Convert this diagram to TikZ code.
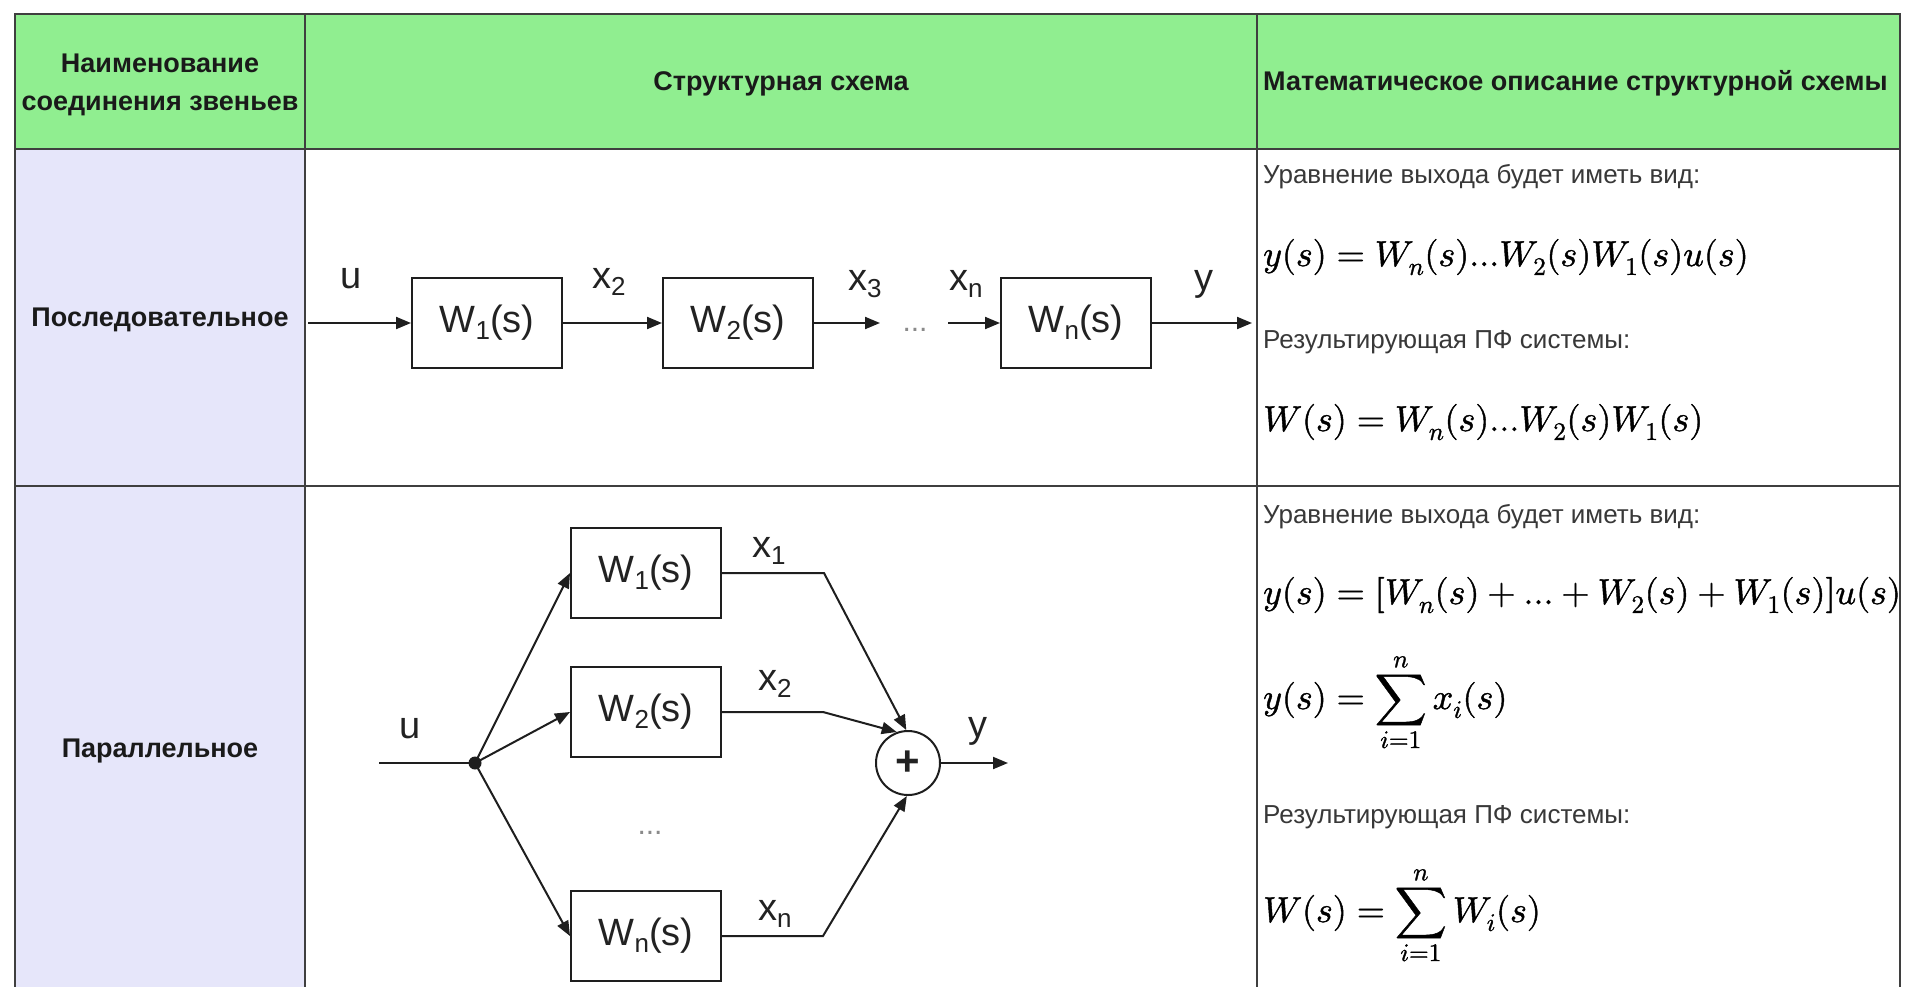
\documentclass[tikz,border=0pt]{standalone}
\usepackage{fontspec}
\usepackage{unicode-math}
\setmainfont{Liberation Sans}
\setmathfont{Latin Modern Math}[FakeBold=1.2]
\usetikzlibrary{arrows.meta}
\definecolor{hg}{HTML}{90EE90}
\definecolor{lv}{HTML}{E6E6FA}
\definecolor{tl}{HTML}{3F3F3F}
\definecolor{dl}{HTML}{1E1E1E}
\definecolor{dk}{HTML}{222222}
\definecolor{hk}{HTML}{1A1A1A}
\definecolor{rk}{HTML}{383838}
\definecolor{dg}{HTML}{8A8A8A}
\newcommand\blkfont{\fontsize{38}{44}\selectfont}
\newcommand\hdrfont{\bfseries\fontsize{27}{32}\selectfont}
\newcommand\rtfont{\fontsize{26}{30}\selectfont}
\newcommand\mthfont{\fontsize{36}{40}\selectfont}
\newcommand\sbs[1]{\raisebox{-7pt}{\fontsize{26}{26}\selectfont #1}}
\begin{document}
\begin{tikzpicture}[x=1pt,y=-1pt,
  tline/.style={draw=tl, line width=2.5pt},
  blk/.style={draw=dl, line width=2pt, fill=white, minimum width=150pt, minimum height=90pt, inner sep=0pt, font=\blkfont, text=dk},
  arr/.style={draw=dl, line width=2pt, -{Triangle[length=15pt,width=12pt]}},
  ln/.style={draw=dl, line width=2pt},
  lbl/.style={anchor=base west, inner sep=0pt, font=\blkfont, text=dk},
  hdr/.style={anchor=base, inner sep=0pt, font=\hdrfont, text=hk},
  rt/.style={anchor=base west, inner sep=0pt, font=\rtfont, text=rk},
  mth/.style={anchor=base west, inner sep=0pt, font=\mthfont, text=black},
  dotsl/.style={anchor=base, inner sep=0pt, font=\fontsize{30}{30}\selectfont, text=dg},
  junc/.style={circle, fill=dl, inner sep=0pt, minimum size=13pt},
  sumc/.style={circle, draw=dl, line width=2pt, fill=white, inner sep=0pt, minimum size=64pt, font=\bfseries\fontsize{42}{42}\selectfont, text=dk}]
\clip (0,0) rectangle (1905,986);
\fill[white] (0,0) rectangle (1905,986);
% table
\fill[hg] (15,14) rectangle (1900,149);
\fill[lv] (15,149) rectangle (305,1100);
\draw[tline] (15,14) rectangle (1900,1100);
\draw[tline] (15,149) -- (1900,149);
\draw[tline] (15,486) -- (1900,486);
\draw[tline] (305,14) -- (305,1100);
\draw[tline] (1257,14) -- (1257,1100);
% header
\node[hdr] (h1a) at (160,72) {Наименование};
\node[hdr] (h1b) at (160,110) {соединения звеньев};
\node[hdr] (h2) at (781,90) {Структурная схема};
\node[hdr, anchor=base west] (h3) at (1263,90) {Математическое описание структурной схемы};
% left labels
\node[hdr] (r1) at (160,326) {Последовательное};
\node[hdr] (r2) at (160,757) {Параллельное};
% row 1 diagram
\coordinate (sin) at (308,323);
\node[blk] (s1) at (487,323) {W\sbs{1}(s)};
\node[blk] (s2) at (738,323) {W\sbs{2}(s)};
\node[blk] (sn) at (1076,323) {W\sbs{n}(s)};
\coordinate (sd1) at (880,323);
\coordinate (sd2) at (948,323);
\coordinate (sout) at (1252,323);
\node[dotsl] (sdots) at (915,331) {...};
\draw[arr] (sin) -- (s1);
\draw[arr] (s1) -- (s2);
\draw[arr] (s2) -- (sd1);
\draw[arr] (sd2) -- (sn);
\draw[arr] (sn) -- (sout);
\node[lbl] (lu) at (340,288) {u};
\node[lbl] (lx2) at (592,288) {x\sbs{2}};
\node[lbl] (lx3) at (848,290) {x\sbs{3}};
\node[lbl] (lxn) at (949,290) {x\sbs{n}};
\node[lbl] (ly) at (1194,290) {y};
% row 2 diagram
\coordinate (pin) at (379,763);
\node[junc] (n0) at (475,763) {};
\node[blk] (p1) at (646,573) {W\sbs{1}(s)};
\node[blk] (p2) at (646,712) {W\sbs{2}(s)};
\node[blk] (pn) at (646,936) {W\sbs{n}(s)};
\node[sumc] (c) at (908,763) {+};
\coordinate (k1) at (824,573);
\coordinate (k2) at (823,712);
\coordinate (kn) at (823,936);
\coordinate (pout) at (1008,763);
\node[dotsl] (pdots) at (650,834) {...};
\draw[ln] (pin) -- (n0.center);
\draw[arr] (n0.center) -- (p1.west);
\draw[arr] (n0.center) -- (p2.west);
\draw[arr] (n0.center) -- (pn.west);
\draw[arr] (p1.east) -- (k1) -- (c.93);
\draw[arr] (p2.east) -- (k2) -- (c.110);
\draw[arr] (pn.east) -- (kn) -- (c.268);
\draw[arr] (c.east) -- (pout);
\node[lbl] (pu) at (399,738) {u};
\node[lbl] (px1) at (752,557) {x\sbs{1}};
\node[lbl] (px2) at (758,690) {x\sbs{2}};
\node[lbl] (pxn) at (758,920) {x\sbs{n}};
\node[lbl] (py) at (968,737) {y};
% right column row 1
\node[rt] (t1) at (1263,183) {Уравнение выхода будет иметь вид:};
\node[mth] (m1) at (1263,266) {$y(s)=W_n(s)...W_2(s)W_1(s)u(s)$};
\node[rt] (t2) at (1263,348) {Результирующая ПФ системы:};
\node[mth] (m2) at (1263,431) {$W(s)=W_n(s)...W_2(s)W_1(s)$};
% right column row 2
\node[rt] (t3) at (1263,523) {Уравнение выхода будет иметь вид:};
\node[mth] (m3) at (1263,604) {$y(s)=[W_n(s)+...+W_2(s)+W_1(s)]u(s)$};
\node[mth] (m4) at (1263,709) {$\displaystyle y(s)=\sum_{i=1}^{n}x_i(s)$};
\node[rt] (t4) at (1263,823) {Результирующая ПФ системы:};
\node[mth] (m5) at (1263,922) {$\displaystyle W(s)=\sum_{i=1}^{n}W_i(s)$};
\end{tikzpicture}
\end{document}
